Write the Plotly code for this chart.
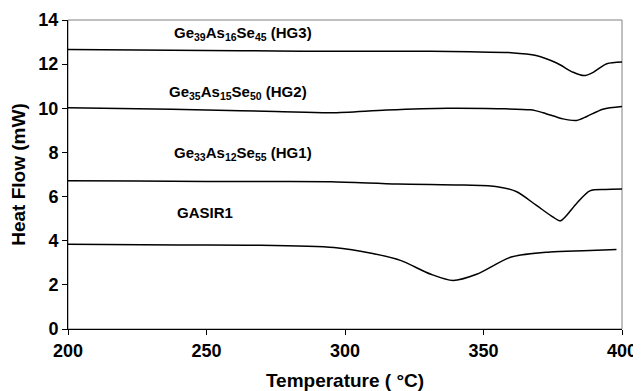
import plotly.graph_objects as go

# Temperature (°C) and heat flow (mW)
hg3_t = [200, 225, 250, 275, 295, 315, 331, 345, 360, 369, 376.4, 382.4, 386.3, 389.6, 394.5, 400]
hg3_q = [12.66, 12.64, 12.62, 12.6, 12.58, 12.58, 12.58, 12.56, 12.52, 12.39, 12.05, 11.63, 11.48, 11.63, 12.02, 12.1]

hg2_t = [200, 225, 250, 275, 295, 315, 337, 355, 367, 371.5, 378.7, 383.6, 387.3, 393.1, 400]
hg2_q = [10.02, 9.98, 9.92, 9.86, 9.8, 9.92, 10.0, 9.98, 9.93, 9.8, 9.52, 9.45, 9.63, 9.96, 10.08]

hg1_t = [200, 225, 250, 275, 295, 319, 343, 355, 362, 369, 375, 377.8, 383.6, 388.4, 394, 400]
hg1_q = [6.72, 6.7, 6.68, 6.68, 6.67, 6.57, 6.52, 6.45, 6.22, 5.61, 5.08, 4.9, 5.69, 6.26, 6.32, 6.34]

gas_t = [200, 240, 266, 296, 310, 320, 331, 339, 347.5, 360, 374, 386, 398]
gas_q = [3.84, 3.81, 3.8, 3.69, 3.42, 3.11, 2.48, 2.2, 2.48, 3.26, 3.49, 3.55, 3.6]

labels = ["Ge<sub>39</sub>As<sub>16</sub>Se<sub>45</sub> (HG3)",
          "Ge<sub>35</sub>As<sub>15</sub>Se<sub>50</sub> (HG2)",
          "Ge<sub>33</sub>As<sub>12</sub>Se<sub>55</sub> (HG1)",
          "GASIR1"]
label_x = [237.5, 235.7, 237.5, 238.6]
label_y = [13.4, 10.73, 7.93, 5.26]

x_ticks = [200, 250, 300, 350, 400]
y_ticks = [0, 2, 4, 6, 8, 10, 12, 14]

fig = go.Figure()
for t, q in [(hg3_t, hg3_q), (hg2_t, hg2_q), (hg1_t, hg1_q), (gas_t, gas_q)]:
    fig.add_trace(go.Scatter(x=t, y=q, mode="lines",
                             line=dict(color="black", width=1.5, shape="spline", smoothing=0.8),
                             showlegend=False, hoverinfo="skip"))

for txt, x, y in zip(labels, label_x, label_y):
    fig.add_annotation(x=x, y=y, text="<b>" + txt + "</b>", showarrow=False,
                       xanchor="left", yanchor="middle",
                       font=dict(family="Liberation Sans, Arial", size=15, color="black"))

fig.add_shape(type="rect", xref="paper", yref="paper", x0=0, y0=0, x1=1, y1=1,
              line=dict(color="#808080", width=1), layer="below")

tick_font = dict(family="Liberation Sans, Arial", size=18, color="black")
title_font = dict(family="Liberation Sans, Arial", size=19, color="black")
fig.update_layout(
    width=633, height=383,
    margin=dict(l=60, r=19, t=12, b=62),
    paper_bgcolor="white", plot_bgcolor="white",
    font=dict(family="Liberation Sans, Arial", color="black"),
    xaxis=dict(range=[200, 400], tickvals=x_ticks, ticktext=["<b>%d</b>" % v for v in x_ticks],
               showgrid=False, zeroline=False, showline=True, linecolor="black", linewidth=1,
               ticks="outside", ticklen=5, tickcolor="black", tickfont=tick_font,
               automargin=False,
               title=dict(text="<b>Temperature ( °C)</b>", font=title_font, standoff=17)),
    yaxis=dict(range=[0, 14], tickvals=y_ticks, ticktext=["<b>%d</b>" % v for v in y_ticks],
               showgrid=False, zeroline=False, showline=True, linecolor="black", linewidth=1,
               ticks="outside", ticklen=5, tickcolor="black", tickfont=tick_font,
               automargin=False,
               title=dict(text="<b>Heat Flow (mW)</b>", font=title_font, standoff=8)),
)

fig.write_html("out.html")
